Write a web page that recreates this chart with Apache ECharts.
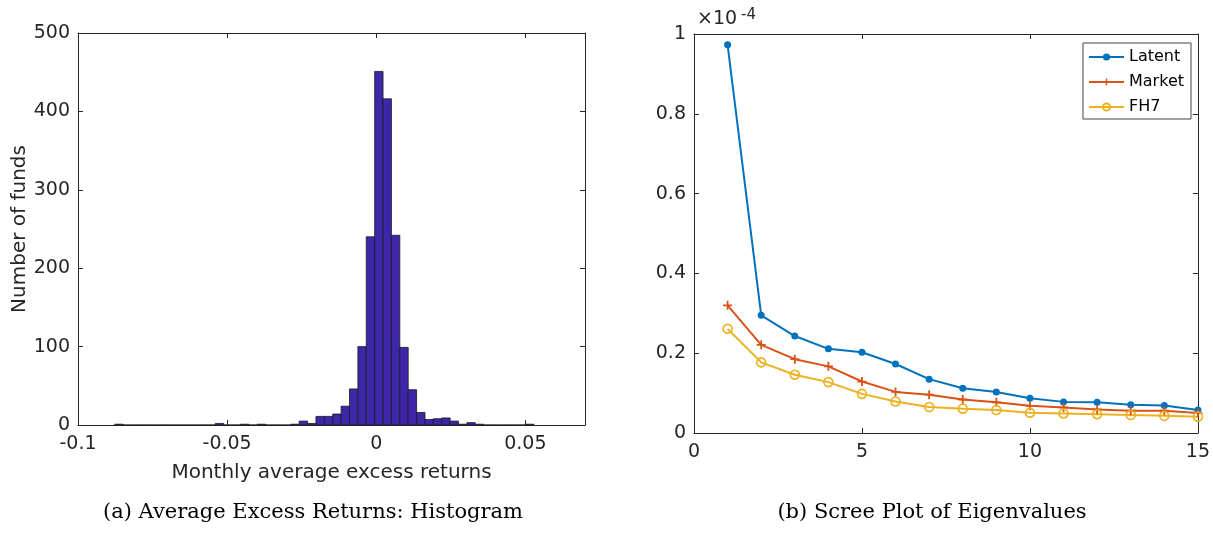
<!DOCTYPE html>
<html>
<head>
<meta charset="utf-8">
<script src="https://cdn.jsdelivr.net/npm/echarts@6/dist/echarts.min.js"></script>
<style>html,body{margin:0;padding:0;background:#fff;}#c{width:1213px;height:540px;}</style>
</head>
<body>
<div id="c"></div>
<script>
// ---- Histogram data (50 bins) ----
var binStart = -0.0877;
var binWidth = 0.002812;
var binCounts = [1,0,0,0,0,0,0,0,0,0,0,0,2,0,0,1,0,1,0,0,0,1,5,2,11,11,14,24,46,100,240,451,416,242,99,45,16,7,8,9,5,1,3,1,0,0,0,0,0,1];
var histXTicks = [-0.1, -0.05, 0, 0.05];
var histYTicks = [0, 100, 200, 300, 400, 500];

// ---- Scree plot data (units of 1e-4) ----
var screeX = [1,2,3,4,5,6,7,8,9,10,11,12,13,14,15];
var latent = [0.973,0.295,0.243,0.211,0.2025,0.173,0.135,0.112,0.1025,0.087,0.078,0.077,0.071,0.069,0.0575];
var market = [0.320,0.221,0.185,0.167,0.129,0.103,0.096,0.084,0.077,0.068,0.064,0.059,0.056,0.056,0.050];
var fh7 = [0.261,0.177,0.146,0.1275,0.098,0.079,0.065,0.061,0.0575,0.051,0.049,0.047,0.045,0.043,0.041];

var histData = binCounts.map(function(c, k){
  var x0 = binStart + k * binWidth;
  return [x0, x0 + binWidth, c];
});
function pairs(ys){ return screeX.map(function(x,i){ return [x, ys[i]]; }); }

var AX = '#262626';
var FONT = 'DejaVu Sans';
function boxAxis(extra){
  var base = {
    axisLine:{show:true, onZero:false, lineStyle:{color:AX, width:1}},
    axisTick:{show:true, inside:true, length:5, lineStyle:{color:AX}},
    axisLabel:{show:false},
    splitLine:{show:false}
  };
  for (var k in extra) base[k] = extra[k];
  return base;
}

var chart = echarts.init(document.getElementById('c'), null, {renderer:'canvas'});
chart.setOption({
  animation:false,
  backgroundColor:'#fff',
  grid:[
    {left:78, right:628, top:33, bottom:115, containLabel:false},
    {left:694, right:13, top:34, bottom:107, containLabel:false}
  ],
  xAxis:[
    boxAxis({type:'value', gridIndex:0, min:-0.1, max:0.07, interval:0.05, position:'bottom',
      axisLabel:{show:true, color:AX, fontFamily:FONT, fontSize:19, margin:10, showMaxLabel:false,
        formatter:function(v){ for (var i=0;i<histXTicks.length;i++){ if (Math.abs(v-histXTicks[i])<1e-9) return String(histXTicks[i]); } return ''; }},
      name:'Monthly average excess returns', nameLocation:'middle', nameGap:38,
      nameTextStyle:{color:AX, fontFamily:FONT, fontSize:20}}),
    boxAxis({type:'value', gridIndex:0, min:-0.1, max:0.07, interval:0.05, position:'top'}),
    boxAxis({type:'value', gridIndex:1, min:0, max:15, interval:5, position:'bottom',
      axisLabel:{show:true, color:AX, fontFamily:FONT, fontSize:19, margin:10}}),
    boxAxis({type:'value', gridIndex:1, min:0, max:15, interval:5, position:'top'})
  ],
  yAxis:[
    boxAxis({type:'value', gridIndex:0, min:0, max:500, interval:100, position:'left',
      axisLabel:{show:true, color:AX, fontFamily:FONT, fontSize:19, margin:8},
      name:'Number of funds', nameLocation:'middle', nameGap:46,
      nameTextStyle:{color:AX, fontFamily:FONT, fontSize:20}}),
    boxAxis({type:'value', gridIndex:0, min:0, max:500, interval:100, position:'right'}),
    boxAxis({type:'value', gridIndex:1, min:0, max:1, interval:0.2, position:'left',
      axisLabel:{show:true, color:AX, fontFamily:FONT, fontSize:19, margin:8}}),
    boxAxis({type:'value', gridIndex:1, min:0, max:1, interval:0.2, position:'right'})
  ],
  legend:{
    data:['Latent','Market','FH7'], orient:'vertical', left:1083, top:43,
    padding:[6,7,4,5], itemGap:9, itemWidth:35, itemHeight:9,
    backgroundColor:'#fff', borderColor:'#444', borderWidth:1, borderRadius:0,
    textStyle:{color:'#000', fontFamily:FONT, fontSize:16}
  },
  series:[
    {type:'custom', xAxisIndex:0, yAxisIndex:0, data:histData, encode:{x:[0,1], y:2},
     renderItem:function(params, api){
       var p0 = api.coord([api.value(0), 0]);
       var p1 = api.coord([api.value(1), api.value(2)]);
       return {type:'rect', shape:{x:p0[0], y:p1[1], width:p1[0]-p0[0], height:p0[1]-p1[1]},
               style:{fill:'#3E26A8', stroke:'#1a1a1a', lineWidth:0.8}};
     }},
    {name:'Latent', type:'line', xAxisIndex:2, yAxisIndex:2, data:pairs(latent),
     symbol:'circle', symbolSize:7, lineStyle:{color:'#0072BD', width:2},
     itemStyle:{color:'#0072BD'}},
    {name:'Market', type:'line', xAxisIndex:2, yAxisIndex:2, data:pairs(market),
     symbol:'path://M4,0H6V4H10V6H6V10H4V6H0V4H4Z', symbolSize:9, lineStyle:{color:'#D95319', width:2},
     itemStyle:{color:'#D95319'}},
    {name:'FH7', type:'line', xAxisIndex:2, yAxisIndex:2, data:pairs(fh7),
     symbol:'circle', symbolSize:9, lineStyle:{color:'#EDB120', width:2},
     itemStyle:{color:'rgba(255,255,255,0)', borderColor:'#EDB120', borderWidth:1.6}}
  ],
  graphic:[
    {type:'text', x:697, y:29, style:{text:'×10', font:'19px "DejaVu Sans"', fill:AX, textVerticalAlign:'bottom'}},
    {type:'text', x:741, y:23, style:{text:'-4', font:'15px "DejaVu Sans"', fill:AX, textVerticalAlign:'bottom'}},
    {type:'text', x:313, y:513, style:{text:'(a) Average Excess Returns: Histogram', font:'21px "DejaVu Serif"', fill:'#000', textAlign:'center', textVerticalAlign:'middle'}},
    {type:'text', x:932, y:513, style:{text:'(b) Scree Plot of Eigenvalues', font:'21px "DejaVu Serif"', fill:'#000', textAlign:'center', textVerticalAlign:'middle'}}
  ]
});
</script>
</body>
</html>
